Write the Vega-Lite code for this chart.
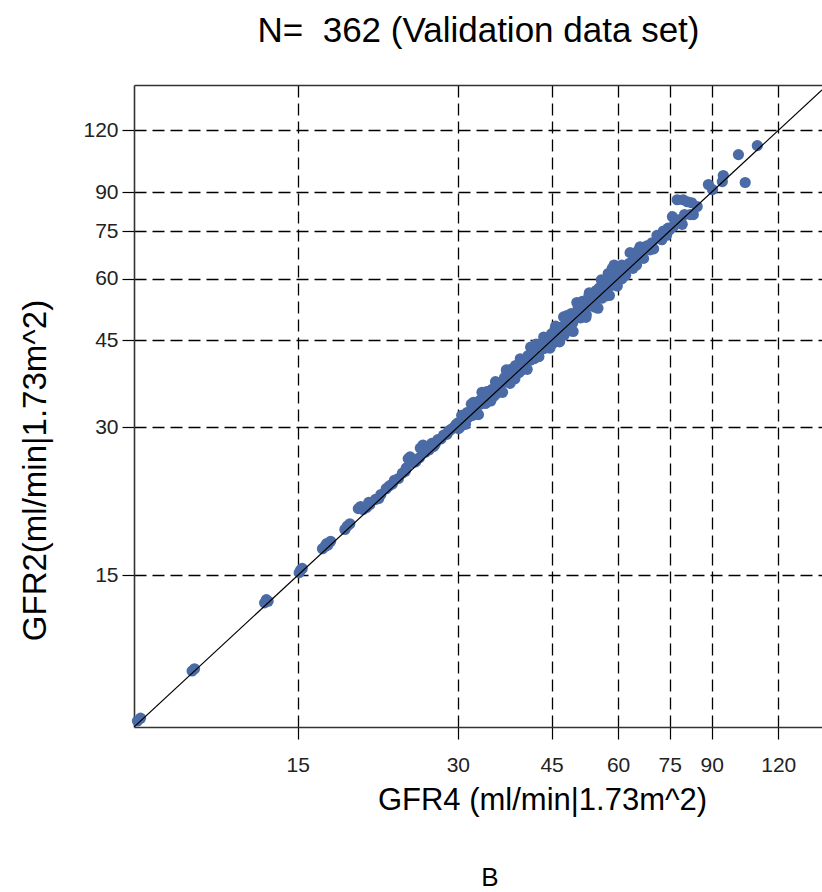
{
  "$schema": "https://vega.github.io/schema/vega-lite/v6.json",
  "width": 688,
  "height": 642,
  "autosize": "none",
  "padding": {"left": 134, "top": 85, "right": 0, "bottom": 165},
  "background": "white",
  "title": {"text": "B", "orient": "bottom", "anchor": "middle", "fontSize": 26, "fontWeight": "normal", "font": "Liberation Sans", "color": "black", "offset": 50, "dx": 12},
  "config": {
    "view": {"stroke": null},
    "axis": {
      "labelFont": "Liberation Sans", "titleFont": "Liberation Sans", "labelColor": "#222", "titleColor": "black",
      "titleFontWeight": "normal", "tickColor": "black", "tickWidth": 1.2, "domainColor": "#333", "domainWidth": 1.6,
      "gridColor": "black", "gridDash": [12, 6], "gridOpacity": 1, "gridWidth": 1.3, "zindex": 1
    }
  },
  "datasets": {
    "ident": [{"x": 7.389, "y": 7.389}, {"x": 145, "y": 145}],
    "pts": [
      {"gfr4": 7.5, "gfr2": 7.6}, {"gfr4": 7.6, "gfr2": 7.7}, {"gfr4": 9.5, "gfr2": 9.6}, {"gfr4": 9.6, "gfr2": 9.7},
      {"gfr4": 13.0, "gfr2": 13.2}, {"gfr4": 13.1, "gfr2": 13.4}, {"gfr4": 13.2, "gfr2": 13.3},
      {"gfr4": 15.1, "gfr2": 15.2}, {"gfr4": 15.3, "gfr2": 15.5}, {"gfr4": 15.2, "gfr2": 15.4},
      {"gfr4": 16.7, "gfr2": 17.0}, {"gfr4": 16.9, "gfr2": 17.2}, {"gfr4": 17.1, "gfr2": 17.3}, {"gfr4": 17.3, "gfr2": 17.6}, {"gfr4": 17.0, "gfr2": 17.4},
      {"gfr4": 18.4, "gfr2": 18.6}, {"gfr4": 18.6, "gfr2": 18.9}, {"gfr4": 18.8, "gfr2": 19.1}, {"gfr4": 19.5, "gfr2": 20.5}, {"gfr4": 19.7, "gfr2": 20.7},
      {"gfr4": 19.9, "gfr2": 20.4}, {"gfr4": 20.2, "gfr2": 20.6}, {"gfr4": 20.5, "gfr2": 20.9}, {"gfr4": 20.4, "gfr2": 21.1},
      {"gfr4": 21.0, "gfr2": 21.4}, {"gfr4": 21.5, "gfr2": 21.9}, {"gfr4": 22.0, "gfr2": 22.5}, {"gfr4": 22.3, "gfr2": 22.8}, {"gfr4": 22.8, "gfr2": 23.4},
      {"gfr4": 23.2, "gfr2": 23.6}, {"gfr4": 23.6, "gfr2": 24.2}, {"gfr4": 24.0, "gfr2": 24.8}, {"gfr4": 24.4, "gfr2": 26.1}, {"gfr4": 24.6, "gfr2": 25.4},
      {"gfr4": 25.0, "gfr2": 25.5}, {"gfr4": 25.4, "gfr2": 26.0}, {"gfr4": 25.8, "gfr2": 27.6}, {"gfr4": 26.1, "gfr2": 26.7}, {"gfr4": 26.5, "gfr2": 27.0},
      {"gfr4": 26.8, "gfr2": 27.8}, {"gfr4": 27.2, "gfr2": 27.7}, {"gfr4": 27.5, "gfr2": 28.3}, {"gfr4": 27.9, "gfr2": 28.4}, {"gfr4": 28.2, "gfr2": 28.9},
      {"gfr4": 28.6, "gfr2": 29.0}, {"gfr4": 29.0, "gfr2": 29.6}, {"gfr4": 29.3, "gfr2": 29.8}, {"gfr4": 29.6, "gfr2": 30.1}, {"gfr4": 29.8, "gfr2": 30.4},
      {"gfr4": 24.2, "gfr2": 25.9}, {"gfr4": 25.5, "gfr2": 27.2}, {"gfr4": 23.9, "gfr2": 24.4}, {"gfr4": 21.3, "gfr2": 21.5}, {"gfr4": 22.6, "gfr2": 23.0},
      {"gfr4": 27.0, "gfr2": 27.4}, {"gfr4": 28.8, "gfr2": 29.4},
      {"gfr4": 30.0, "gfr2": 30.6}, {"gfr4": 30.3, "gfr2": 30.0}, {"gfr4": 30.5, "gfr2": 31.7}, {"gfr4": 30.8, "gfr2": 31.1}, {"gfr4": 31.0, "gfr2": 30.4},
      {"gfr4": 31.2, "gfr2": 32.1}, {"gfr4": 31.5, "gfr2": 31.5}, {"gfr4": 31.8, "gfr2": 33.4}, {"gfr4": 32.0, "gfr2": 31.7}, {"gfr4": 32.2, "gfr2": 32.8},
      {"gfr4": 32.5, "gfr2": 32.8}, {"gfr4": 32.8, "gfr2": 31.8}, {"gfr4": 33.0, "gfr2": 34.0}, {"gfr4": 33.3, "gfr2": 35.3}, {"gfr4": 33.5, "gfr2": 34.2},
      {"gfr4": 33.8, "gfr2": 33.5}, {"gfr4": 34.0, "gfr2": 35.4}, {"gfr4": 34.3, "gfr2": 34.6}, {"gfr4": 34.6, "gfr2": 33.9}, {"gfr4": 34.8, "gfr2": 35.8},
      {"gfr4": 35.0, "gfr2": 35.0}, {"gfr4": 35.3, "gfr2": 37.1}, {"gfr4": 35.6, "gfr2": 35.2}, {"gfr4": 35.9, "gfr2": 36.6}, {"gfr4": 36.1, "gfr2": 36.5},
      {"gfr4": 36.4, "gfr2": 35.3}, {"gfr4": 36.7, "gfr2": 37.8}, {"gfr4": 37.0, "gfr2": 39.2}, {"gfr4": 37.2, "gfr2": 37.9}, {"gfr4": 37.5, "gfr2": 37.1},
      {"gfr4": 37.8, "gfr2": 39.3}, {"gfr4": 38.1, "gfr2": 38.5}, {"gfr4": 38.4, "gfr2": 37.6}, {"gfr4": 38.7, "gfr2": 39.9}, {"gfr4": 39.0, "gfr2": 39.0},
      {"gfr4": 39.3, "gfr2": 41.3}, {"gfr4": 39.6, "gfr2": 39.2}, {"gfr4": 39.9, "gfr2": 40.7}, {"gfr4": 40.2, "gfr2": 40.6}, {"gfr4": 40.5, "gfr2": 39.3},
      {"gfr4": 40.8, "gfr2": 42.0}, {"gfr4": 41.1, "gfr2": 43.6}, {"gfr4": 41.4, "gfr2": 42.2}, {"gfr4": 41.7, "gfr2": 41.3}, {"gfr4": 42.0, "gfr2": 43.7},
      {"gfr4": 42.3, "gfr2": 42.7}, {"gfr4": 42.6, "gfr2": 41.7}, {"gfr4": 42.9, "gfr2": 44.2}, {"gfr4": 43.2, "gfr2": 43.2}, {"gfr4": 43.5, "gfr2": 45.7},
      {"gfr4": 43.8, "gfr2": 43.4}, {"gfr4": 44.1, "gfr2": 45.0}, {"gfr4": 44.4, "gfr2": 44.8}, {"gfr4": 44.7, "gfr2": 43.4},
      {"gfr4": 30.1, "gfr2": 29.8}, {"gfr4": 30.6, "gfr2": 31.5}, {"gfr4": 31.1, "gfr2": 31.1}, {"gfr4": 31.6, "gfr2": 32.2}, {"gfr4": 32.1, "gfr2": 33.7},
      {"gfr4": 32.6, "gfr2": 31.9}, {"gfr4": 33.1, "gfr2": 33.4}, {"gfr4": 33.6, "gfr2": 34.9}, {"gfr4": 34.1, "gfr2": 33.8}, {"gfr4": 34.5, "gfr2": 35.2},
      {"gfr4": 35.1, "gfr2": 34.7}, {"gfr4": 35.5, "gfr2": 36.6}, {"gfr4": 36.0, "gfr2": 36.0}, {"gfr4": 36.5, "gfr2": 37.2}, {"gfr4": 37.1, "gfr2": 39.0},
      {"gfr4": 37.6, "gfr2": 36.8}, {"gfr4": 38.0, "gfr2": 38.4}, {"gfr4": 38.5, "gfr2": 40.0}, {"gfr4": 39.1, "gfr2": 38.7}, {"gfr4": 39.5, "gfr2": 40.3},
      {"gfr4": 40.0, "gfr2": 39.6}, {"gfr4": 40.6, "gfr2": 41.8}, {"gfr4": 41.0, "gfr2": 41.0}, {"gfr4": 41.5, "gfr2": 42.3}, {"gfr4": 42.1, "gfr2": 44.2},
      {"gfr4": 42.5, "gfr2": 41.7}, {"gfr4": 43.0, "gfr2": 43.4}, {"gfr4": 43.6, "gfr2": 45.3}, {"gfr4": 44.0, "gfr2": 43.6}, {"gfr4": 44.6, "gfr2": 45.5},
      {"gfr4": 45.0, "gfr2": 46.4}, {"gfr4": 45.4, "gfr2": 44.5}, {"gfr4": 45.8, "gfr2": 48.1}, {"gfr4": 46.2, "gfr2": 46.2}, {"gfr4": 46.6, "gfr2": 44.7},
      {"gfr4": 47.0, "gfr2": 47.9}, {"gfr4": 47.4, "gfr2": 50.2}, {"gfr4": 47.8, "gfr2": 47.3}, {"gfr4": 48.2, "gfr2": 48.7}, {"gfr4": 48.6, "gfr2": 47.1},
      {"gfr4": 49.0, "gfr2": 51.0}, {"gfr4": 49.4, "gfr2": 46.9}, {"gfr4": 49.8, "gfr2": 50.8}, {"gfr4": 50.2, "gfr2": 53.7}, {"gfr4": 50.6, "gfr2": 52.1},
      {"gfr4": 51.0, "gfr2": 50.0}, {"gfr4": 51.4, "gfr2": 54.0}, {"gfr4": 51.8, "gfr2": 51.8}, {"gfr4": 52.2, "gfr2": 50.1}, {"gfr4": 52.6, "gfr2": 53.7},
      {"gfr4": 53.0, "gfr2": 56.2}, {"gfr4": 53.4, "gfr2": 52.9}, {"gfr4": 53.8, "gfr2": 54.3}, {"gfr4": 54.2, "gfr2": 52.6}, {"gfr4": 54.6, "gfr2": 56.8},
      {"gfr4": 55.0, "gfr2": 52.3}, {"gfr4": 55.4, "gfr2": 56.5}, {"gfr4": 55.8, "gfr2": 59.7}, {"gfr4": 56.2, "gfr2": 57.9}, {"gfr4": 56.6, "gfr2": 55.5},
      {"gfr4": 57.0, "gfr2": 59.9}, {"gfr4": 57.4, "gfr2": 57.4}, {"gfr4": 57.8, "gfr2": 55.5}, {"gfr4": 58.2, "gfr2": 59.4}, {"gfr4": 58.6, "gfr2": 62.1},
      {"gfr4": 59.0, "gfr2": 58.4}, {"gfr4": 59.4, "gfr2": 60.0}, {"gfr4": 59.8, "gfr2": 58.0},
      {"gfr4": 45.2, "gfr2": 45.2}, {"gfr4": 45.7, "gfr2": 47.5}, {"gfr4": 46.3, "gfr2": 45.4}, {"gfr4": 46.9, "gfr2": 47.8}, {"gfr4": 47.5, "gfr2": 46.1},
      {"gfr4": 48.1, "gfr2": 50.5}, {"gfr4": 48.7, "gfr2": 49.2}, {"gfr4": 49.3, "gfr2": 48.8}, {"gfr4": 49.9, "gfr2": 49.9}, {"gfr4": 50.5, "gfr2": 52.5},
      {"gfr4": 51.1, "gfr2": 50.1}, {"gfr4": 51.7, "gfr2": 52.7}, {"gfr4": 52.3, "gfr2": 50.7}, {"gfr4": 52.9, "gfr2": 55.5}, {"gfr4": 53.5, "gfr2": 54.0},
      {"gfr4": 54.1, "gfr2": 53.6}, {"gfr4": 54.7, "gfr2": 54.7}, {"gfr4": 55.3, "gfr2": 57.5}, {"gfr4": 55.9, "gfr2": 54.8}, {"gfr4": 56.5, "gfr2": 57.6},
      {"gfr4": 57.1, "gfr2": 55.4}, {"gfr4": 57.7, "gfr2": 60.6}, {"gfr4": 58.3, "gfr2": 58.9}, {"gfr4": 58.9, "gfr2": 58.3}, {"gfr4": 59.5, "gfr2": 61.9},
      {"gfr4": 58.5, "gfr2": 63.0}, {"gfr4": 59.0, "gfr2": 64.0}, {"gfr4": 57.5, "gfr2": 61.5},
      {"gfr4": 60.5, "gfr2": 62.0}, {"gfr4": 61.0, "gfr2": 60.0}, {"gfr4": 61.5, "gfr2": 63.0}, {"gfr4": 62.0, "gfr2": 61.0}, {"gfr4": 62.4, "gfr2": 63.5},
      {"gfr4": 63.0, "gfr2": 64.5}, {"gfr4": 63.2, "gfr2": 67.8}, {"gfr4": 64.0, "gfr2": 63.0}, {"gfr4": 64.5, "gfr2": 66.0}, {"gfr4": 65.0, "gfr2": 64.0},
      {"gfr4": 66.0, "gfr2": 69.7}, {"gfr4": 66.5, "gfr2": 67.0}, {"gfr4": 67.0, "gfr2": 66.0}, {"gfr4": 68.0, "gfr2": 70.0}, {"gfr4": 68.9, "gfr2": 68.7},
      {"gfr4": 69.5, "gfr2": 71.0}, {"gfr4": 70.0, "gfr2": 69.0}, {"gfr4": 71.0, "gfr2": 73.5}, {"gfr4": 72.0, "gfr2": 73.0}, {"gfr4": 72.5, "gfr2": 72.0},
      {"gfr4": 73.0, "gfr2": 75.0}, {"gfr4": 74.0, "gfr2": 73.5}, {"gfr4": 74.5, "gfr2": 76.0}, {"gfr4": 61.0, "gfr2": 64.0}, {"gfr4": 64.0, "gfr2": 67.5},
      {"gfr4": 65.5, "gfr2": 68.5},
      {"gfr4": 75.0, "gfr2": 75.4}, {"gfr4": 75.9, "gfr2": 80.2}, {"gfr4": 76.2, "gfr2": 76.6}, {"gfr4": 77.0, "gfr2": 78.5}, {"gfr4": 77.5, "gfr2": 86.8},
      {"gfr4": 78.0, "gfr2": 79.0}, {"gfr4": 79.2, "gfr2": 77.4}, {"gfr4": 79.5, "gfr2": 86.8}, {"gfr4": 80.0, "gfr2": 81.0}, {"gfr4": 81.0, "gfr2": 86.0},
      {"gfr4": 82.0, "gfr2": 81.0}, {"gfr4": 82.5, "gfr2": 85.6}, {"gfr4": 83.1, "gfr2": 81.0}, {"gfr4": 84.5, "gfr2": 84.1},
      {"gfr4": 88.7, "gfr2": 93.2}, {"gfr4": 90.3, "gfr2": 91.0}, {"gfr4": 94.6, "gfr2": 97.2}, {"gfr4": 94.2, "gfr2": 94.5},
      {"gfr4": 101.0, "gfr2": 107.2}, {"gfr4": 104.0, "gfr2": 94.1}, {"gfr4": 109.6, "gfr2": 111.8}
    ]
  },
  "layer": [
    {
      "data": {"name": "pts"},
      "mark": {"type": "circle", "size": 125, "color": "#4b6ba6", "opacity": 1},
      "encoding": {
        "x": {
          "field": "gfr4", "type": "quantitative",
          "scale": {"type": "log", "domain": [7.389, 145], "nice": false},
          "axis": {
            "orient": "bottom", "values": [15, 30, 45, 60, 75, 90, 120], "grid": true, "tickSize": 12,
            "labelFontSize": 21, "labelPadding": 15, "title": "GFR4 (ml/min|1.73m^2)", "titleFontSize": 31,
            "titleX": 408, "titleY": 73, "titleBaseline": "middle", "titleAlign": "center"
          }
        },
        "y": {
          "field": "gfr2", "type": "quantitative",
          "scale": {"type": "log", "domain": [7.389, 148.4], "nice": false},
          "axis": {
            "values": [15, 30, 45, 60, 75, 90, 120], "grid": true, "tickSize": 12,
            "labelFontSize": 21, "labelPadding": 4, "title": "GFR2(ml/min|1.73m^2)", "titleFontSize": 33,
            "titleX": -99, "titleY": 385, "titleBaseline": "middle", "titleAlign": "center", "titleAngle": -90
          }
        }
      }
    },
    {
      "data": {"name": "ident"},
      "mark": {"type": "line", "color": "black", "strokeWidth": 1.2, "clip": true},
      "encoding": {
        "x": {
          "field": "x", "type": "quantitative",
          "axis": {
            "orient": "top", "labels": false, "ticks": false, "grid": false, "domain": true,
            "title": "N=\u00a0 362 (Validation data set)", "titleFontSize": 35,
            "titleX": 344, "titleY": -55, "titleBaseline": "middle", "titleAlign": "center"
          }
        },
        "y": {
          "field": "y", "type": "quantitative",
          "axis": {
            "values": [15, 30, 45, 60, 75, 90, 120], "grid": true, "tickSize": 12,
            "labelFontSize": 21, "labelPadding": 4, "title": "GFR2(ml/min|1.73m^2)", "titleFontSize": 33,
            "titleX": -99, "titleY": 385, "titleBaseline": "middle", "titleAlign": "center", "titleAngle": -90
          }
        }
      }
    }
  ],
  "resolve": {"axis": {"x": "independent"}}
}
